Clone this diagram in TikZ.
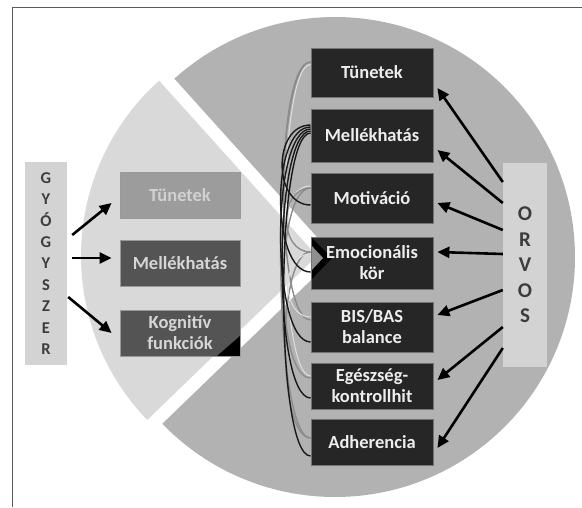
\documentclass[tikz,border=0pt]{standalone}
\usepackage{fontspec}
\setmainfont{Carlito}
\usetikzlibrary{arrows.meta}
\definecolor{piedark}{HTML}{B2B2B2}
\definecolor{pielight}{HTML}{D9D9D9}
\definecolor{sidegray}{HTML}{D3D3D3}
\definecolor{boxblack}{HTML}{262626}
\definecolor{boxmid}{HTML}{545454}
\definecolor{boxlight}{HTML}{9C9C9C}
\definecolor{lettergray}{HTML}{3C3C3C}
\definecolor{framegray}{HTML}{5A5A5A}
\definecolor{chevgray}{HTML}{8E8E8E}
\begin{document}
\begin{tikzpicture}[x=1pt,y=-1pt,
  boxfont/.style={font=\bfseries\fontsize{18.5}{21}\selectfont},
  rbox/.style={boxfont, draw=black!55, line width=0.8pt, fill=boxblack, text=white!93!black, minimum width=122pt, align=center, inner sep=0pt},
  lbox/.style={boxfont, draw=black!40, line width=0.8pt, minimum width=120pt, minimum height=46pt, align=center, inner sep=0pt, text=white!84!black},
  side/.style={fill=sidegray, inner sep=0pt, align=center, text=lettergray},
  arr/.style={line width=2.6pt, -{Triangle[length=12pt,width=11pt]}},
  blk/.style={line width=1.4pt, black!90},
  gry/.style={line width=1.4pt, black!45},
  pale/.style={line width=1pt, white!88!black}
]
\useasboundingbox (0,0) rectangle (582,507);
\fill[white] (0,0) rectangle (582,507);
\draw[framegray, line width=1pt] (12.5,507) -- (12.5,7.5) -- (582,7.5);

% pie
\fill[piedark] (335,257) -- ++(136:240) arc[start angle=136, end angle=-132, radius=240] -- cycle;
\fill[pielight] (317,256) -- ++(136:236) arc[start angle=136, end angle=228, radius=236] -- cycle;

% side boxes
\node[side, minimum width=42pt, minimum height=203pt, font=\bfseries\fontsize{16.5}{21.4}\selectfont] (gy) at (46,263.5) {G\\Y\\Ó\\G\\Y\\S\\Z\\E\\R};
\node[side, minimum width=44pt, minimum height=204pt, font=\bfseries\fontsize{21}{25.5}\selectfont] (orv) at (525,265) {O\\R\\V\\O\\S};

% left boxes
\node[lbox, fill=boxlight, text=white!82!black] (lt) at (180,195) {Tünetek};
\node[lbox, fill=boxmid] (lm) at (180,263) {Mellékhatás};
\node[lbox, fill=boxmid, path picture={\fill[black] ([xshift=-23pt]path picture bounding box.south east) -- (path picture bounding box.south east) -- ([yshift=20pt]path picture bounding box.south east) -- cycle;}] (lk) at (180,333) {Kognitív\\funkciók};

% right boxes
\node[rbox, minimum height=49pt] (rt) at (372,72.5) {Tünetek};
\node[rbox, minimum height=53pt] (rm) at (372,135.5) {Mellékhatás};
\node[rbox, minimum height=50pt] (rmo) at (372,198) {Motiváció};
\node[rbox, minimum height=52pt, path picture={
   \fill[black] (path picture bounding box.north west) -- ([xshift=21pt,yshift=5pt]path picture bounding box.west) -- ([yshift=-17pt]path picture bounding box.west) -- cycle;
   \fill[chevgray] ([yshift=18pt]path picture bounding box.west) -- ([xshift=12pt,yshift=5pt]path picture bounding box.west) -- ([yshift=-8pt]path picture bounding box.west) -- cycle;}] (re) at (372,263) {Emocionális\\kör};
\node[rbox, minimum height=50pt] (rb) at (372,327) {BIS/BAS\\balance};
\node[rbox, minimum height=46pt] (rg) at (372,386) {Egészség-\\kontrollhit};
\node[rbox, minimum height=46pt] (ra) at (372,442) {Adherencia};

% curved connectors
\draw[pale] ([yshift=8pt]rt.west) .. controls +(-34,0) and +(-34,0) .. ([yshift=10pt]rg.west);
\draw[gry] ([yshift=10.5pt]rt.west) .. controls +(-40,0) and +(-40,0) .. ([yshift=4pt]ra.west);
\draw[gry] ([yshift=10.5pt]rt.west) .. controls +(-36,0) and +(-36,0) .. ([yshift=7pt]rb.west);
\draw[pale] ([yshift=12pt]rmo.west) .. controls +(-30,0) and +(-30,0) .. ([yshift=13pt]re.west);
\draw[gry] ([yshift=10pt]rmo.west) .. controls +(-32,0) and +(-32,0) .. ([yshift=11pt]re.west);
\draw[gry] ([yshift=10pt]rmo.west) .. controls +(-36,0) and +(-36,0) .. ([yshift=8pt]rg.west);
\draw[gry] ([yshift=11pt]re.west) .. controls +(-34,0) and +(-34,0) .. ([yshift=4pt]ra.west);
\draw[pale] ([yshift=9pt]re.west) .. controls +(-30,0) and +(-30,0) .. ([yshift=10pt]rb.west);
\draw[blk] ([yshift=10.5pt]rm.west) .. controls +(-38,0) and +(-38,0) .. ([yshift=-7pt]rmo.west);
\draw[blk] ([yshift=8.5pt]rm.west) .. controls +(-40,0) and +(-40,0) .. ([yshift=-9pt]re.west);
\draw[blk] ([yshift=6.5pt]rm.west) .. controls +(-40,0) and +(-40,0) .. ([yshift=-15pt]rb.west);
\draw[blk] ([yshift=4.5pt]rm.west) .. controls +(-38,0) and +(-38,0) .. ([yshift=-12pt]rg.west);
\draw[blk] ([yshift=2.5pt]rm.west) .. controls +(-36,0) and +(-36,0) .. ([yshift=-14pt]ra.west);

% arrows from ORVOS
\draw[arr] ([yshift=83pt]orv.west) -- ([xshift=4pt,yshift=-15.5pt]rt.east);
\draw[arr] ([yshift=62pt]orv.west) -- ([xshift=4pt,yshift=-14.5pt]rm.east);
\draw[arr] ([yshift=35pt]orv.west) -- ([xshift=4pt,yshift=-5pt]rmo.east);
\draw[arr] ([yshift=11pt]orv.west) -- ([xshift=4pt,yshift=11pt]re.east);
\draw[arr] ([yshift=-25pt]orv.west) -- ([xshift=4pt,yshift=12pt]rb.east);
\draw[arr] ([yshift=-62pt]orv.west) -- ([xshift=4pt,yshift=6pt]rg.east);
\draw[arr] ([yshift=-83pt]orv.west) -- ([xshift=4pt,yshift=-6pt]ra.east);

% arrows from GYOGYSZER
\draw[arr] ([xshift=5pt,yshift=28.5pt]gy.east) -- ([xshift=-8pt,yshift=-8pt]lt.west);
\draw[arr] ([xshift=5pt,yshift=5.5pt]gy.east) -- ([xshift=-8pt,yshift=5pt]lm.west);
\draw[arr] ([xshift=1pt,yshift=-33.5pt]gy.east) -- ([xshift=-8pt]lk.west);
\end{tikzpicture}
\end{document}
